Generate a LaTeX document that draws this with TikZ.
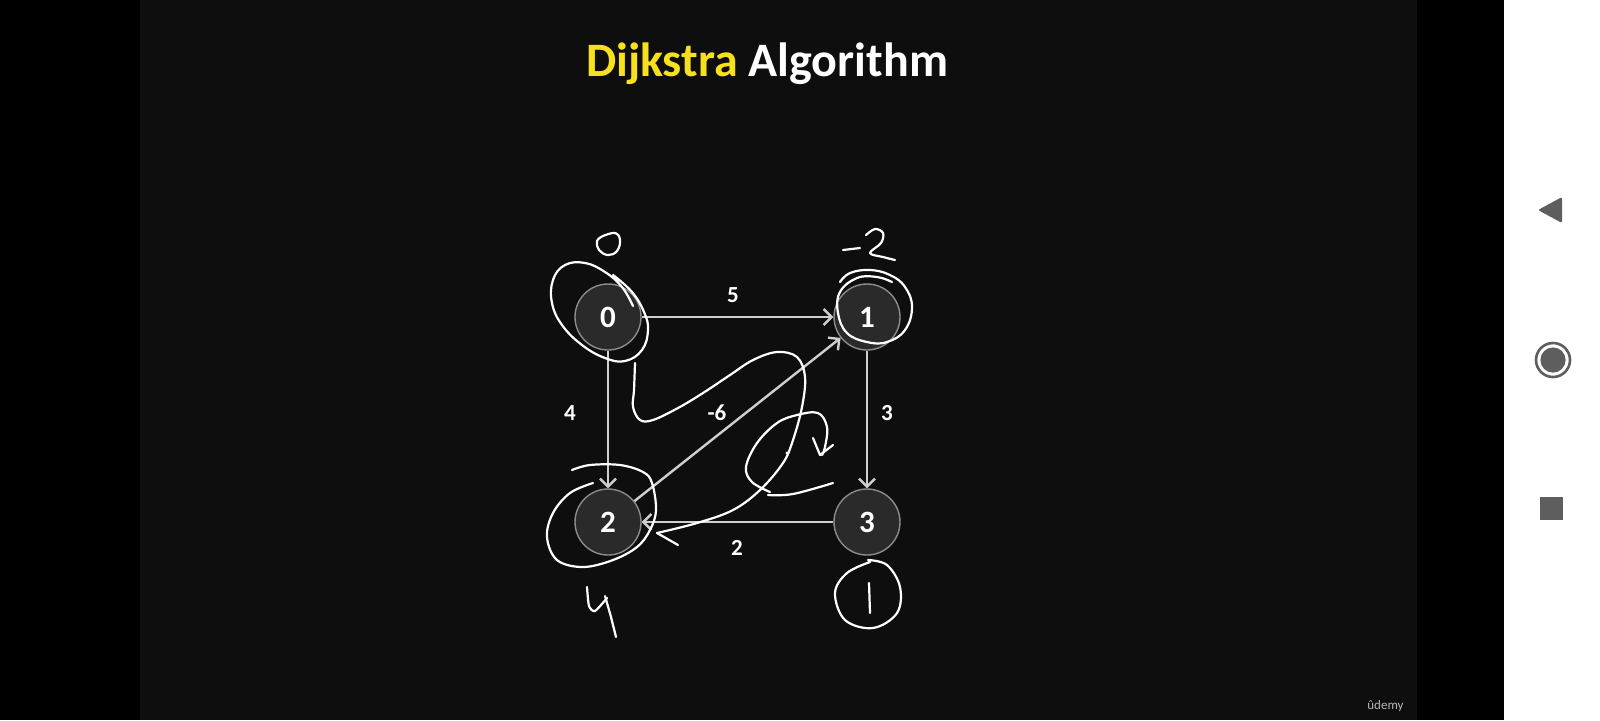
\documentclass[tikz,border=0pt]{standalone}
\usepackage{fontspec}
\setmainfont{Carlito}
\usetikzlibrary{arrows.meta}
\definecolor{slidebg}{HTML}{0E0E0E}
\definecolor{nodefill}{HTML}{2A2A2A}
\definecolor{nodeedge}{HTML}{8C8C8C}
\definecolor{edgecol}{HTML}{CFCFCF}
\definecolor{titleyellow}{HTML}{F7E01E}
\definecolor{icongray}{HTML}{5E5E5E}
\definecolor{udemygray}{HTML}{B8B8B8}
\begin{document}
\begin{tikzpicture}[x=0.5pt,y=-0.5pt,
  vertex/.style={circle, fill=nodefill, draw=nodeedge, line width=0.7pt, minimum size=33pt, inner sep=0pt, text=white, font=\bfseries\fontsize{15.5}{15.5}\selectfont},
  edge/.style={draw=edgecol, line width=1.2pt, -{Straight Barb[length=4pt,width=8pt]}},
  wlabel/.style={text=white, font=\bfseries\fontsize{11.5}{11.5}\selectfont},
  ink/.style={draw=white, line width=1.1pt, line cap=round, line join=round},
]
\fill[black] (0,0) rectangle (1600,720);
\fill[slidebg] (140,0) rectangle (1417,720);
\fill[white] (1504,0) rectangle (1600,720);
\useasboundingbox (0,0) rectangle (1600,720);

% title
\node[anchor=base, inner sep=0pt, font=\bfseries\fontsize{24}{24}\selectfont] (title) at (767,76)
  {\textcolor{titleyellow}{Dijkstra} \textcolor{white}{Algorithm}};

% nodes
\node[vertex] (n0) at (608,317) {0};
\node[vertex] (n1) at (867,317) {1};
\node[vertex] (n2) at (608,522) {2};
\node[vertex] (n3) at (867,522) {3};

% edges
\draw[edge] (n0) -- (n1);
\draw[edge] (n0) -- (n2);
\draw[edge] (n1) -- (n3);
\draw[edge] (n3) -- (n2);
\draw[edge] (n2) -- (n1);

% weights
\node[wlabel] (w01) at (733,295) {5};
\node[wlabel] (w02) at (570,413) {4};
\node[wlabel] (w21) at (717,413) {-6};
\node[wlabel] (w13) at (887,413) {3};
\node[wlabel] (w32) at (737,548) {2};

% handwriting
\draw[ink] plot[smooth, tension=0.7] coordinates {(603,236) (615,233) (620,240) (617,251) (608,255) (599,250) (597,241) (603,236)};
\draw[ink] plot[smooth, tension=0.7] coordinates {(633,306) (622,287) (605,272) (585,263) (565,265) (553,280) (552,303) (562,325) (582,345) (605,358) (625,361) (642,350) (648,330) (644,312) (632,292) (613,275)};
\draw[ink] (843,250) -- (860,248);
\draw[ink] plot[smooth, tension=0.6] coordinates {(866,235) (875,229) (883,233) (881,243) (870,253) (883,257) (895,260)};
\draw[ink] plot[smooth, tension=0.7] coordinates {(840,282) (850,273) (870,270) (890,275) (905,287) (912,307) (905,330) (887,342) (867,342) (847,333) (838,313) (840,292) (857,278) (877,277) (892,282)};
\draw[ink] plot[smooth, tension=0.6] coordinates {(635,363) (634,390) (633,407) (640,420) (653,420) (678,408) (703,393) (730,375) (753,360) (777,352) (797,357) (805,377) (802,407) (793,440) (783,463) (760,490) (733,510) (697,523) (657,533)};
\draw[ink] (657,533) -- (678,545);
\draw[ink] plot[smooth, tension=0.6] coordinates {(770,492) (752,482) (746,467) (757,443) (777,423) (797,415) (818,413) (827,427) (825,447) (822,455)};
\draw[ink] (813,438) -- (820,455) -- (833,445);
\draw[ink] plot[smooth, tension=0.6] coordinates {(768,495) (793,494) (833,483)};
\fill[white] (787,453) circle (0.8pt);
\draw[ink] plot[smooth, tension=0.6] coordinates {(572,470) (590,465) (620,465) (643,472) (652,483) (656,510) (650,530) (637,547) (613,560) (583,567) (557,560) (547,537) (553,513) (570,493) (593,483)};
\draw[ink] plot[smooth, tension=0.4] coordinates {(587,587) (589,606) (595,611) (607,598)};
\draw[ink] (605,596) -- (611,617) -- (616,637);
\draw[ink] plot[smooth, tension=0.6] coordinates {(870,562) (847,573) (835,593) (845,620) (873,628) (897,613) (900,587) (887,565) (868,560)};
\draw[ink] (869,583) -- (870,613);

% side panel icons
\fill[icongray, rounded corners=1pt] (1538,210) -- (1562,197) -- (1562,223) -- cycle;
\draw[icongray, line width=1.3pt] (1553,360) circle (8.5pt);
\fill[icongray] (1553,360) circle (6.3pt);
\fill[icongray] (1540,497) rectangle (1563,520);

% watermark
\node[anchor=base west, inner sep=0pt, text=udemygray, font=\fontsize{6.5}{6.5}\selectfont] (udemy) at (1367,709) {ûdemy};
\end{tikzpicture}
\end{document}
